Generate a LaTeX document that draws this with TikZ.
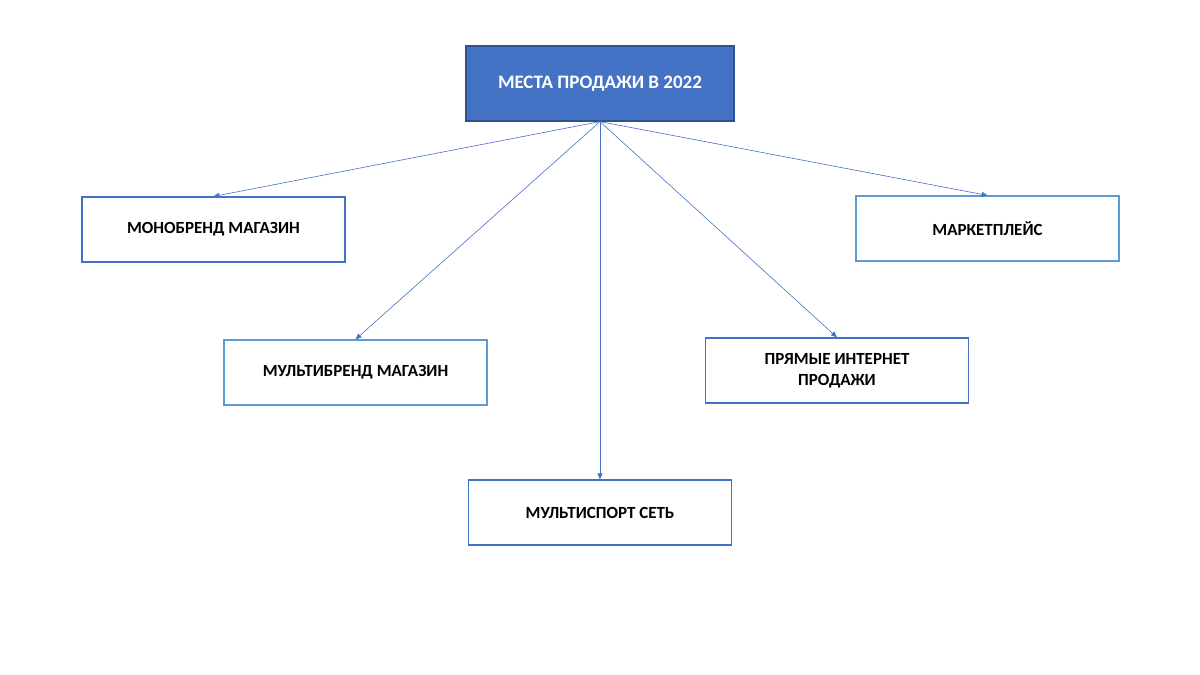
\documentclass[tikz,border=0pt]{standalone}
\usepackage{fontspec}
\setmainfont{Carlito}
\usetikzlibrary{arrows.meta}
\definecolor{dk}{HTML}{4472C4}
\definecolor{lt}{HTML}{5B9BD5}
\definecolor{hb}{HTML}{2F528F}
\begin{document}
\begin{tikzpicture}[x=1pt,y=-1pt,
  box/.style={draw=dk,line width=1.2pt,minimum width=263pt,minimum height=65pt,align=center,font=\fontsize{17}{21}\selectfont\bfseries,inner sep=0pt},
  arr/.style={draw=dk,line width=0.6pt,-{Triangle[length=6pt,width=5pt]}}]
\useasboundingbox (0,0) rectangle (1200,675);
\node[box,fill=dk,draw=hb,text=white,minimum width=268pt,minimum height=75pt,font=\fontsize{19}{23}\selectfont\bfseries] (top) at (600,83.5) {МЕСТА ПРОДАЖИ В 2022};
\node[box] (mono) at (213.5,229.5) {МОНОБРЕНД МАГАЗИН};
\node[box,draw=lt] (mark) at (987.5,228.5) {МАРКЕТПЛЕЙС};
\node[box,draw=lt] (multi) at (355.5,372.5) {МУЛЬТИБРЕНД МАГАЗИН};
\node[box] (direct) at (837,370.5) {ПРЯМЫЕ ИНТЕРНЕТ\\ПРОДАЖИ};
\node[box] (sport) at (600,512.5) {МУЛЬТИСПОРТ СЕТЬ};
\foreach \n in {mono,mark,multi,direct,sport} \draw[arr] (top.south) -- (\n.north);
\end{tikzpicture}
\end{document}
